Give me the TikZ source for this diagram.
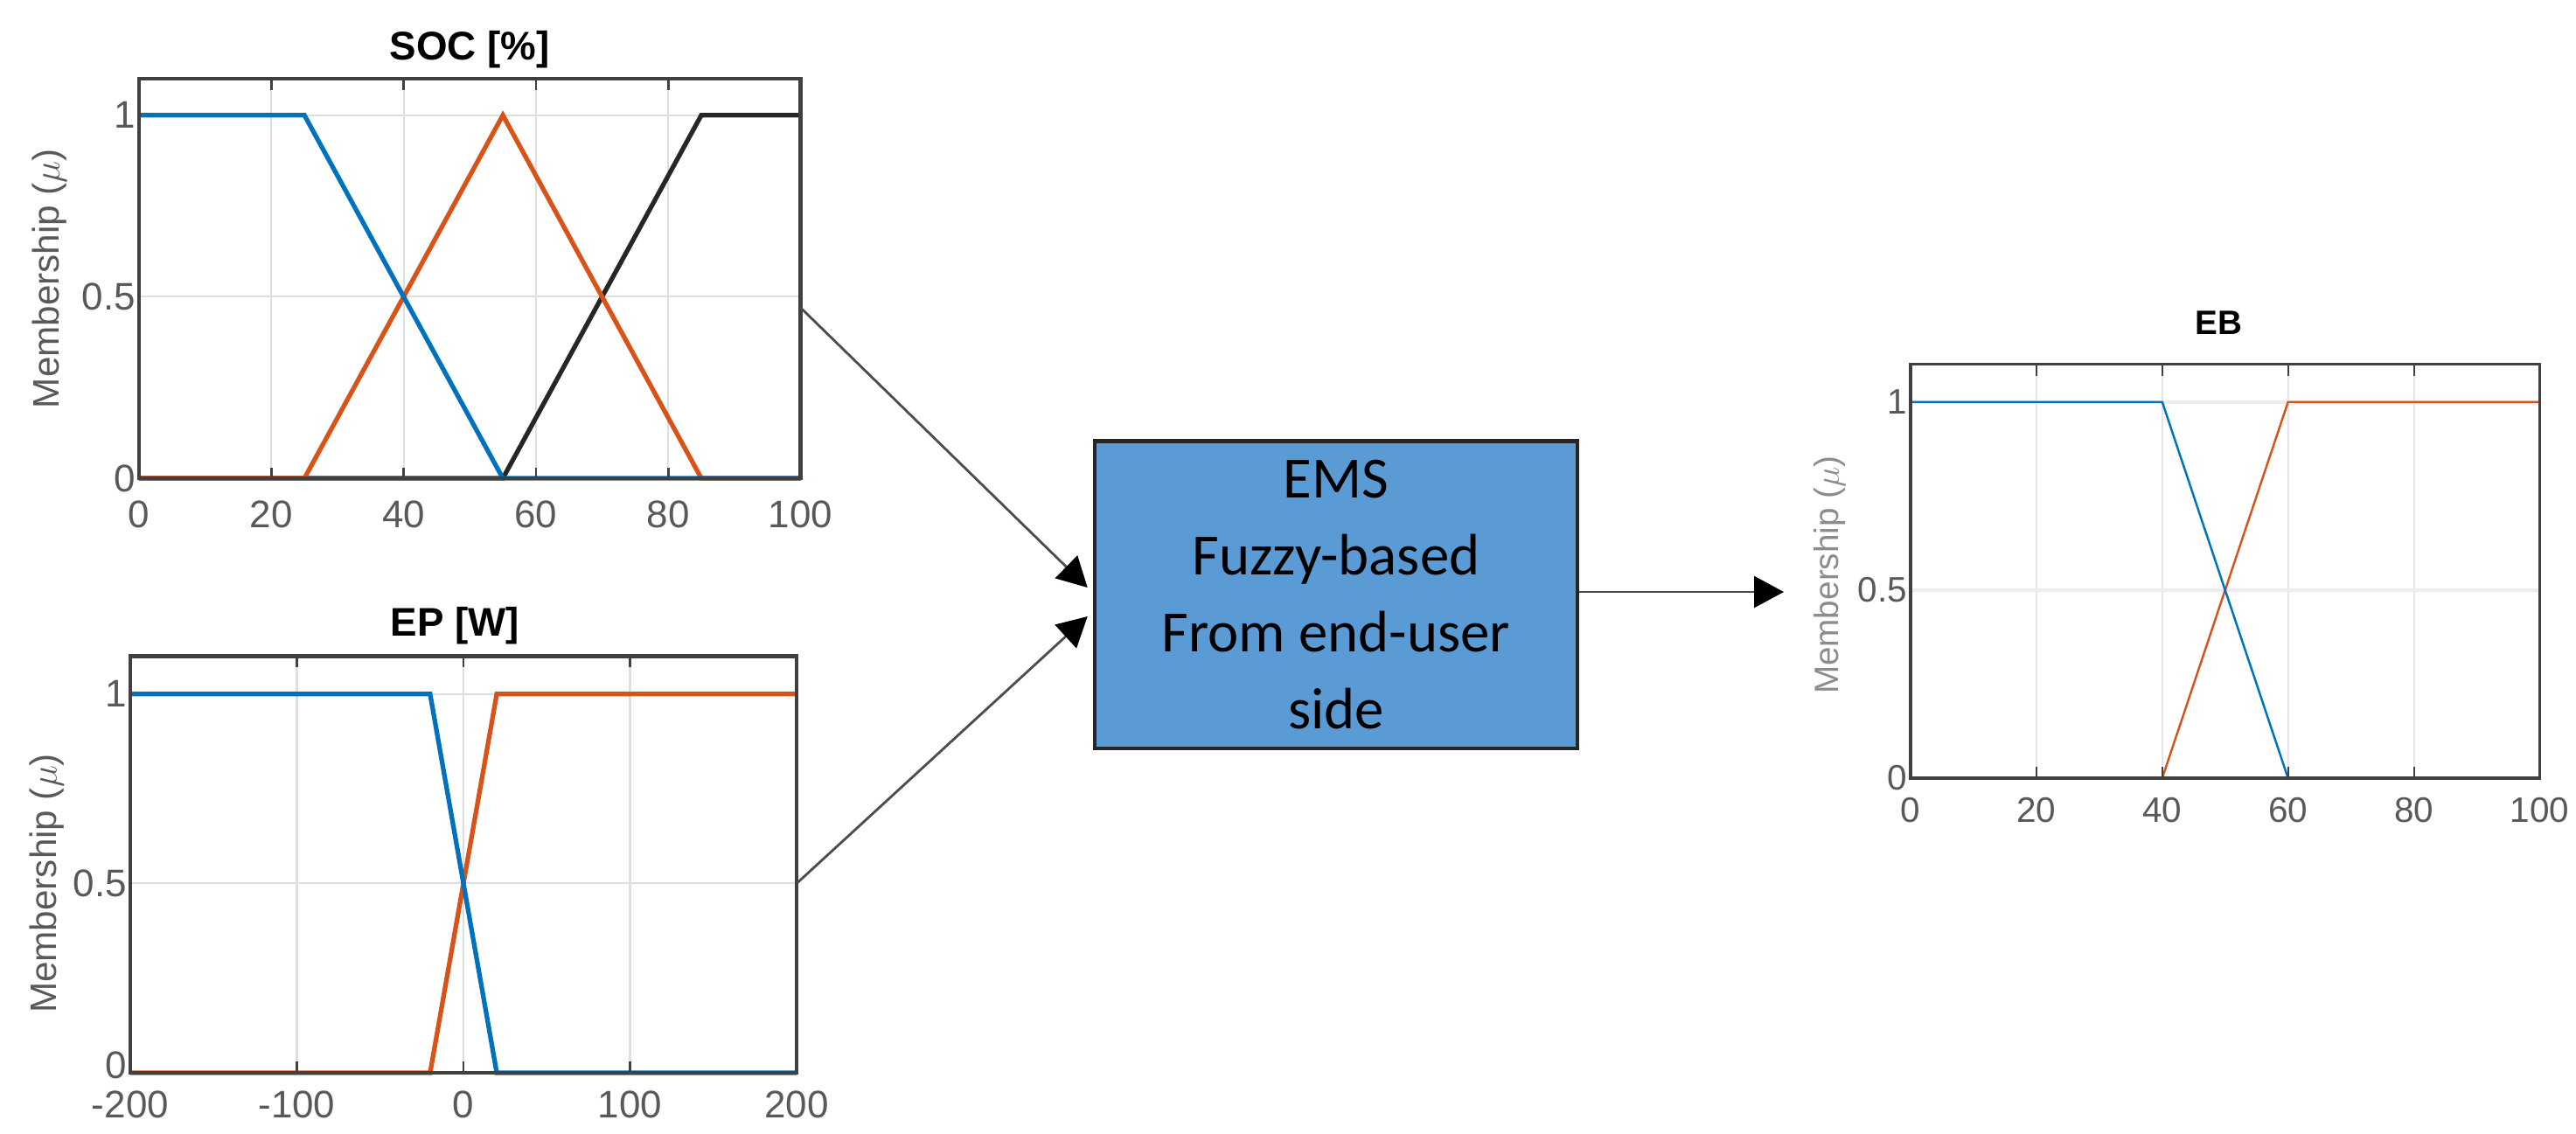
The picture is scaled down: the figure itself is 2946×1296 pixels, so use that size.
\documentclass[tikz,border=0pt]{standalone}
\usepackage{fontspec}
\setmainfont{Liberation Sans}
\newfontfamily\carl{Carlito}
\usetikzlibrary{arrows.meta,calc}
\definecolor{mblue}{rgb}{0,0.447,0.741}
\definecolor{morange}{rgb}{0.85,0.325,0.098}
\definecolor{boxblue}{HTML}{5B9BD5}
\tikzset{
  grid/.style={gray!25,line width=0.6pt},
  frame/.style={black!75,line width=1.2pt},
  mf/.style={line width=1.5pt},
  mfthin/.style={line width=0.7pt},
  tick/.style={font=\fontsize{12.5}{14}\selectfont,text=black!65},
  ttl/.style={font=\bfseries\fontsize{13}{15}\selectfont},
  ylab/.style={font=\fontsize{12}{14}\selectfont,text=black!65,rotate=90},
  conn/.style={black!70,line width=0.8pt,-{Triangle[length=0.34cm,width=0.36cm,color=black]}},
}
\begin{document}
\begin{tikzpicture}[x=0.01cm,y=-0.01cm]
\useasboundingbox (0,0) rectangle (2946,1296);

% ---------- SOC plot ----------
\begin{scope}[shift={(159,547)},x=0.0756cm,y=4.15cm]
  \foreach \t in {20,40,60,80} \draw[grid] (\t,0) -- (\t,1.1);
  \foreach \v in {0.5,1} \draw[grid] (0,\v) -- (100,\v);
  \draw[mf,black!85] (0,0) -- (55,0) -- (85,1) -- (100,1);
  \draw[mf,morange] (0,0) -- (25,0) -- (55,1) -- (85,0) -- (100,0);
  \draw[mf,mblue] (0,1) -- (25,1) -- (55,0) -- (100,0);
  \draw[frame] (0,0) rectangle (100,1.1);
  \foreach \t in {0,20,...,100} {
    \draw[frame,line width=0.8pt] (\t,0) -- (\t,0.03) (\t,1.1) -- (\t,1.07);
    \node[tick] at (\t,-0.1) {\t};}
  \foreach \v in {0,0.5,1} \node[tick,anchor=east,inner sep=1pt] at (0,\v) {\v};
  \node[ttl] at (50,1.18) {SOC [\%]};
  \node[ylab] at (-13.5,0.55) {Membership ($\mu$)};
  \coordinate (socout) at (100,0.47);
\end{scope}

% ---------- EP plot ----------
\begin{scope}[shift={(530,1227)},x=0.01905cm,y=4.33cm]
  \foreach \t in {-100,0,100} \draw[grid] (\t,0) -- (\t,1.1);
  \foreach \v in {0.5,1} \draw[grid] (-200,\v) -- (200,\v);
  \draw[mf,morange] (-200,0) -- (-20,0) -- (20,1) -- (200,1);
  \draw[mf,mblue] (-200,1) -- (-20,1) -- (20,0) -- (200,0);
  \draw[frame] (-200,0) rectangle (200,1.1);
  \foreach \t in {-200,-100,0,100,200} {
    \draw[frame,line width=0.8pt] (\t,0) -- (\t,0.03) (\t,1.1) -- (\t,1.07);
    \node[tick] at (\t,-0.085) {\t};}
  \foreach \v/\p in {0/0.02,0.5/0.5,1/1} \node[tick,anchor=east,inner sep=1pt] at (-200,\p) {\v};
  \node[ttl] at (-5,1.18) {EP [W]};
  \node[ylab] at (-250,0.5) {Membership ($\mu$)};
  \coordinate (epout) at (200,0.5);
\end{scope}

% ---------- EB plot ----------
\begin{scope}[shift={(2185,890)},x=0.0719cm,y=4.3cm]
  \foreach \t in {20,40,60,80} \draw[grid,gray!20] (\t,0) -- (\t,1.1);
  \foreach \v in {0.5,1} \draw[grid,gray!15,line width=1.2pt] (0,\v) -- (100,\v);
  \draw[mfthin,morange] (0,0) -- (40,0) -- (60,1) -- (100,1);
  \draw[mfthin,mblue] (0,1) -- (40,1) -- (60,0) -- (100,0);
  \draw[frame,line width=0.9pt] (0,0) rectangle (100,1.1);
  \foreach \t in {0,20,...,100} {
    \draw[frame,line width=0.6pt] (\t,0) -- (\t,0.03) (\t,1.1) -- (\t,1.07);
    \node[tick,font=\fontsize{11.5}{13}\selectfont] at (\t,-0.085) {\t};}
  \foreach \v in {0,0.5,1} \node[tick,font=\fontsize{11.5}{13}\selectfont,anchor=east,inner sep=1pt] at (0,\v) {\v};
  \node[ttl,font=\bfseries\fontsize{11}{13}\selectfont] at (49,1.21) {EB};
  \node[ylab,font=\fontsize{11}{13}\selectfont,text=black!45] at (-12.8,0.54) {Membership ($\mu$)};
\end{scope}

% ---------- EMS box ----------
\node[draw=black!85,line width=1.2pt,fill=boxblue,minimum width=5.52cm,minimum height=3.51cm,
      align=center,font=\carl\fontsize{19}{25}\selectfont,inner sep=0pt] (ems) at (1528,680)
  {EMS\\Fuzzy-based\\From end-user\\side};

\coordinate (in1) at ($(ems.west)+(-6,-8)$);
\coordinate (in2) at ($(ems.west)+(-6,25)$);
\coordinate (outtip) at (2040,677);
\draw[conn] (socout) -- (in1);
\draw[conn] (epout) -- (in2);
\draw[conn] (ems.east |- outtip) -- (outtip);
\end{tikzpicture}
\end{document}
